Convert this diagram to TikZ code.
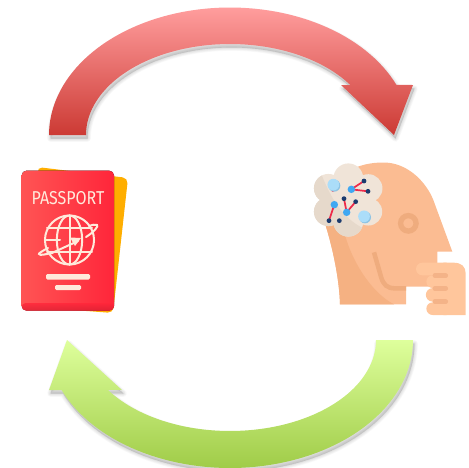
\documentclass[tikz,border=0pt]{standalone}
\usepackage{fontspec}
\newfontfamily\ppfont{Fira Sans}
\usetikzlibrary{calc}
\definecolor{skinA}{HTML}{FBBC92}
\definecolor{skinB}{HTML}{F5B182}
\definecolor{skinC}{HTML}{FFC69C}
\definecolor{skinD}{HTML}{EFAC7E}
\definecolor{stripeC}{HTML}{F4B388}
\definecolor{cloudA}{HTML}{F0E4D8}
\definecolor{cloudB}{HTML}{E6D9CB}
\definecolor{nodeL}{HTML}{ABDDF9}
\definecolor{nodeLd}{HTML}{8FC4E4}
\definecolor{nodeM}{HTML}{40A8F2}
\definecolor{nodeD}{HTML}{1C3B6E}
\definecolor{edgeR}{HTML}{EE2A4A}
\definecolor{cream}{HTML}{FFEADB}
\definecolor{redT}{HTML}{FF9D9D}
\definecolor{redB}{HTML}{CC3A34}
\definecolor{grnT}{HTML}{DEFF9C}
\definecolor{grnB}{HTML}{A0CC48}
\definecolor{cardY}{HTML}{FFAE00}
\definecolor{cardB}{HTML}{DC2032}
\definecolor{cardL}{HTML}{FF5454}
\definecolor{cardR}{HTML}{FF263A}
\tikzset{
  orbitline/.style={draw=cream,line width=1.5pt,line cap=round},
  linkedge/.style={draw=edgeR,line width=1.3pt},
  skinline/.style={draw=skinD,line width=3.4pt},
  softshade/.style={fill=black,fill opacity=0.022,draw=black,draw opacity=0.022,line join=round},
}
% outline of the two arrows, in pixel coordinates
\newcommand{\toparrow}{(49,135) -- plot[domain=180:23.1,samples=70] ({230+181*cos(\x)},{135-127.5*sin(\x)}) -- (413,85) -- (394,135) -- (341,85) -- plot[domain=33.3:180,samples=70] ({230+144*cos(\x)},{135-91*sin(\x)}) -- cycle}
\newcommand{\botarrow}{(413,340) -- plot[domain=0:157,samples=70] ({230+183*cos(\x)},{340+128*sin(\x)}) -- (49,390) -- (67,340) -- (122,390) -- plot[domain=146.7:0,samples=70] ({230+146*cos(\x)},{340+91*sin(\x)}) -- cycle}
\begin{document}
\begin{tikzpicture}[x=0.75pt,y=-0.75pt]
\useasboundingbox (0,0) rectangle (469,468);
% soft shadows
\begin{scope}[shift={(1.5,3.5)}]
\foreach \w in {5,4,3,2,1,0.5}{
  \path[softshade,line width=\w pt] \toparrow;
  \path[softshade,line width=\w pt] \botarrow;
}
\end{scope}
% arrows
\shade[top color=redT,bottom color=redB] \toparrow;
\shade[top color=grnT,bottom color=grnB] \botarrow;
% passport
\begin{scope}
\fill[cardY,rounded corners=4pt] (37,167) -- (128,178) -- (113,313) -- (60,309) -- cycle;
\fill[left color=cardL,right color=cardR,rounded corners=3.5pt] (21.7,170.7) rectangle (114,310.5);
\shade[top color=cardR,bottom color=cardB,rounded corners=3pt,opacity=0.8] (21.7,303) rectangle (114,310.5);
\node[text=cream,inner sep=0pt,anchor=center] (ptitle) at (68,198) {\resizebox{54.5pt}{9.8pt}{\ppfont PASSPORT}};
\coordinate (g) at (69.5,240);
\draw[orbitline] (g) circle[radius=18.4pt];
\draw[orbitline] (g) ellipse[x radius=9.5pt,y radius=18.4pt];
\draw[orbitline] (g) ++(0,-24.5) -- ++(0,49);
\draw[orbitline] (47,228) -- (92,228);
\draw[orbitline] (45,240) -- (60,240);
\draw[orbitline] (47,252) -- (92,252);
\draw[orbitline] (86,237) .. controls (94,232) and (99,226) .. (97,225) .. controls (95,224) and (92,225) .. (89,226);
\draw[orbitline] (48,248) .. controls (42,251) and (38,254) .. (39,254) .. controls (40,256) and (46,254) .. (52,253) -- (78,241);
\fill[cream] (81,238) -- (70,237.5) -- (75,246) -- cycle;
\fill[cream,rounded corners=1pt] (46,274) rectangle (90,279.5);
\fill[cream,rounded corners=1pt] (55,285) rectangle (81,290);
\end{scope}
% head
\begin{scope}[shift={(300,150)},x=0.25pt,y=-0.25pt]
\fill[skinA] (150,60) .. controls (190,40) and (230,36) .. (262,38) .. controls (330,44) and (380,100) .. (400,150) -- (457,305) -- (412,305) -- (412,410) -- (318,410) -- (318,463) -- (120,463) .. controls (118,390) and (100,300) .. (75,220) -- cycle;
\fill[skinB] (75,220) -- (130,230) .. controls (140,300) and (200,420) .. (282,463) -- (120,463) .. controls (118,390) and (100,300) .. (75,220) -- cycle;
\draw[skinline,line width=4pt] (325,220) circle[radius=5.8pt];
\draw[skinline] (222,307) -- (243,380) .. controls (250,405) and (262,415) .. (285,415) -- (318,415);
% fist
\fill[skinC] (430,338) -- (460,338) .. controls (485,338) and (497,350) .. (497,370) -- (497,495) -- (430,495) -- cycle;
\fill[skinC] (367,338) -- (440,338) -- (440,376) -- (367,376) arc[start angle=270,end angle=90,radius=4.75pt] -- cycle;
\fill[skinC] (398,376) -- (440,376) -- (440,414) -- (398,414) arc[start angle=270,end angle=90,radius=4.75pt] -- cycle;
\fill[skinC] (398,414) -- (440,414) -- (440,455) -- (398,455) arc[start angle=270,end angle=90,radius=5.1pt] -- cycle;
\fill[skinC] (398,457) -- (440,457) -- (440,495) -- (398,495) arc[start angle=270,end angle=90,radius=4.75pt] -- cycle;
\foreach \yy in {377,415,455}{
  \draw[draw=stripeC,line width=3.6pt,line cap=round] (405,\yy) -- (437,\yy);
}
% cloud
\newcommand{\cloudshape}{(145,85) circle[radius=11.2pt] (85,115) circle[radius=10.8pt] (205,115) circle[radius=10.6pt] (85,185) circle[radius=10.8pt] (205,185) circle[radius=10.4pt] (145,215) circle[radius=11.2pt] (145,150) circle[radius=17pt]}
\fill[cloudA,nonzero rule] \cloudshape;
\begin{scope}
\clip \cloudshape;
\fill[cloudB] (65,75) .. controls (95,150) and (130,205) .. (190,235) -- (140,280) -- (20,240) -- (20,80) -- cycle;
\end{scope}
% network
\coordinate (a) at (154,118);
\coordinate (b) at (103,164);
\coordinate (c) at (140,187);
\coordinate (d1) at (192,93);
\coordinate (d2) at (204,124);
\coordinate (d3) at (132,146);
\coordinate (d4) at (167,155);
\coordinate (d5) at (87,212);
\coordinate (d6) at (118,212);
\coordinate (e) at (100,104);
\coordinate (f) at (192,199);
\draw[linkedge] (a) -- (d1);
\draw[linkedge] (a) -- (d2);
\draw[linkedge] (c) -- (d3);
\draw[linkedge] (c) -- (d4);
\draw[linkedge] (b) -- (d5);
\draw[linkedge] (e) -- (98,125);
\foreach \p in {d1,d2,d3,d4,d5,d6}{\fill[nodeD] (\p) circle[radius=1.8pt];}
\foreach \p in {a,b,c}{\fill[nodeM] (\p) circle[radius=2.8pt];}
\fill[nodeLd] (103,107) circle[radius=4.5pt];
\fill[nodeL] (e) circle[radius=4.4pt];
\fill[nodeLd] (195,202) circle[radius=4.5pt];
\fill[nodeL] (f) circle[radius=4.4pt];
\end{scope}
\end{tikzpicture}
\end{document}
